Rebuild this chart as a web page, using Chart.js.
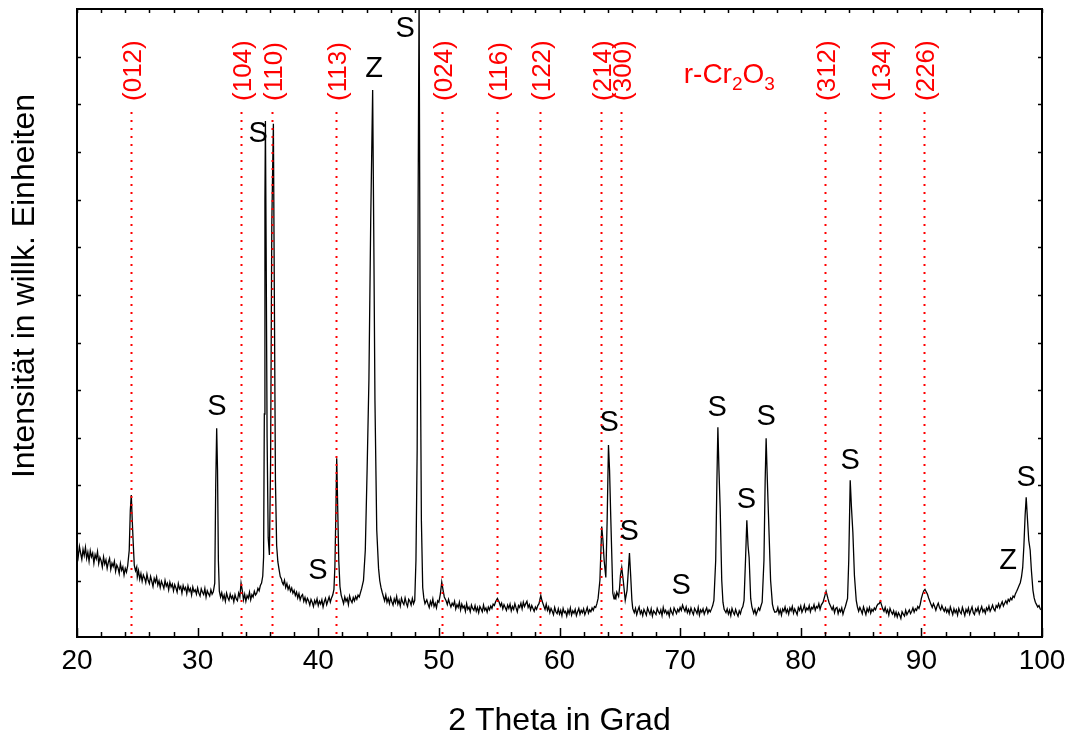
<!DOCTYPE html>
<html lang="de">
<head>
<meta charset="utf-8">
<title>r-Cr2O3 Diffraktogramm</title>
<script src="https://cdn.jsdelivr.net/npm/chart.js@4.4.1/dist/chart.umd.min.js"></script>
<style>
  html, body { margin: 0; padding: 0; background: #fff; }
  #wrap { width: 1069px; height: 737px; position: relative; }
</style>
</head>
<body>
<div id="wrap"><canvas id="xrd"></canvas></div>
<script>
// measured scan, 2 theta in degrees
const twoTheta = [
  20.0, 20.1, 20.2, 20.3, 20.4, 20.5, 20.6, 20.7, 20.8, 20.9,
  21.0, 21.1, 21.2, 21.3, 21.4, 21.5, 21.6, 21.7, 21.8, 21.9,
  22.0, 22.1, 22.2, 22.3, 22.4, 22.5, 22.6, 22.7, 22.8, 22.9,
  23.0, 23.1, 23.2, 23.3, 23.4, 23.5, 23.6, 23.7, 23.8, 23.9,
  24.0, 24.1, 24.2, 24.33, 24.42, 24.5, 24.58, 24.65, 24.75, 24.85, 24.95,
  25.0, 25.1, 25.2, 25.3, 25.4, 25.5, 25.6, 25.7, 25.8, 25.9,
  26.0, 26.1, 26.2, 26.3, 26.4, 26.5, 26.6, 26.7, 26.8, 26.9,
  27.0, 27.1, 27.2, 27.3, 27.4, 27.5, 27.6, 27.7, 27.8, 27.9,
  28.0, 28.1, 28.2, 28.3, 28.4, 28.5, 28.6, 28.7, 28.8, 28.9,
  29.0, 29.1, 29.2, 29.3, 29.4, 29.5, 29.6, 29.7, 29.8, 29.9,
  30.0, 30.1, 30.2, 30.3, 30.4, 30.5, 30.6, 30.7, 30.8, 30.9,
  31.0, 31.1, 31.2, 31.3, 31.42, 31.5, 31.58, 31.65, 31.72, 31.8, 31.9,
  32.0, 32.1, 32.2, 32.3, 32.4, 32.5, 32.6, 32.7, 32.8, 32.9,
  33.0, 33.1, 33.2, 33.3, 33.4, 33.5, 33.6, 33.7, 33.8, 33.9,
  34.0, 34.1, 34.2, 34.3, 34.4, 34.5, 34.6, 34.7, 34.8, 34.9,
  35.0, 35.1, 35.2, 35.3, 35.4, 35.47, 35.53, 35.58, 35.62, 35.68,
  35.76, 35.85, 35.95, 36.05, 36.15, 36.28, 36.36, 36.45, 36.55, 36.65,
  36.75, 36.85, 36.95,
  37.0, 37.1, 37.2, 37.3, 37.4, 37.5, 37.6, 37.7, 37.8, 37.9,
  38.0, 38.1, 38.2, 38.3, 38.4, 38.5, 38.6, 38.7, 38.8, 38.9,
  39.0, 39.1, 39.2, 39.3, 39.4, 39.5, 39.6, 39.7, 39.8, 39.9,
  40.0, 40.1, 40.2, 40.3, 40.4, 40.5, 40.6, 40.7, 40.8, 40.9,
  41.0, 41.1, 41.2, 41.3, 41.38, 41.45, 41.53, 41.6, 41.7, 41.8, 41.9,
  42.0, 42.1, 42.2, 42.3, 42.4, 42.5, 42.6, 42.7, 42.8, 42.9,
  43.0, 43.1, 43.2, 43.3, 43.4, 43.5, 43.6, 43.75, 43.9,
  44.05, 44.2, 44.35, 44.51, 44.6, 44.7, 44.85, 45.0, 45.1, 45.2, 45.3,
  45.4, 45.5, 45.6, 45.7, 45.8, 45.9,
  46.0, 46.1, 46.2, 46.3, 46.4, 46.5, 46.6, 46.7, 46.8, 46.9,
  47.0, 47.1, 47.2, 47.3, 47.4, 47.5, 47.6, 47.7, 47.8, 47.9,
  48.0, 48.1, 48.2, 48.28, 48.36, 48.44, 48.55, 48.66, 48.75, 48.85,
  49.0, 49.1, 49.2, 49.3, 49.4, 49.5, 49.6, 49.7, 49.8, 49.9,
  50.0, 50.12, 50.24, 50.35, 50.45,
  50.6, 50.7, 50.8, 50.9,
  51.0, 51.1, 51.2, 51.3, 51.4, 51.5, 51.6, 51.7, 51.8, 51.9,
  52.0, 52.1, 52.2, 52.3, 52.4, 52.5, 52.6, 52.7, 52.8, 52.9,
  53.0, 53.1, 53.2, 53.3, 53.4, 53.5, 53.6, 53.7, 53.8, 53.9,
  54.0, 54.1, 54.2, 54.3, 54.4, 54.5, 54.6, 54.7, 54.85,
  55.0, 55.1, 55.2, 55.3, 55.4, 55.5, 55.6, 55.7, 55.8, 55.9,
  56.0, 56.1, 56.2, 56.3, 56.4, 56.5, 56.6, 56.7, 56.8, 56.9,
  57.0, 57.1, 57.2, 57.3, 57.4, 57.5, 57.6, 57.7, 57.8, 57.9,
  58.0, 58.1, 58.2, 58.3, 58.45, 58.55, 58.7, 58.8, 58.9,
  59.0, 59.1, 59.2, 59.3, 59.4, 59.5, 59.6, 59.7, 59.8, 59.9,
  60.0, 60.1, 60.2, 60.3, 60.4, 60.5, 60.6, 60.7, 60.8, 60.9,
  61.0, 61.1, 61.2, 61.3, 61.4, 61.5, 61.6, 61.7, 61.8, 61.9,
  62.0, 62.1, 62.2, 62.3, 62.4, 62.5, 62.6, 62.7, 62.8, 62.9,
  63.0, 63.1, 63.2, 63.35, 63.5, 63.6, 63.7, 63.84, 63.95, 64.06,
  64.15, 64.25, 64.42, 64.52, 64.6, 64.68, 64.75, 64.83, 64.9, 64.98,
  65.05, 65.16, 65.3, 65.45, 65.6, 65.8, 65.9, 66.0, 66.07,
  66.2, 66.3, 66.4, 66.5, 66.6, 66.7, 66.8, 66.9,
  67.0, 67.1, 67.2, 67.3, 67.4, 67.5, 67.6, 67.7, 67.8, 67.9,
  68.0, 68.1, 68.2, 68.3, 68.4, 68.5, 68.6, 68.7, 68.8, 68.9,
  69.0, 69.1, 69.2, 69.3, 69.4, 69.5, 69.6, 69.7, 69.8, 69.9,
  70.0, 70.1, 70.2, 70.3, 70.4, 70.5, 70.6, 70.7, 70.8, 70.9,
  71.0, 71.1, 71.2, 71.3, 71.4, 71.5, 71.6, 71.7, 71.8, 71.9,
  72.0, 72.1, 72.2, 72.3, 72.4, 72.5, 72.6, 72.7,
  72.8, 72.95, 73.05, 73.13, 73.22, 73.32, 73.45, 73.55, 73.65,
  73.8, 73.9,
  74.0, 74.1, 74.2, 74.3, 74.4, 74.5, 74.6, 74.7, 74.8, 74.9,
  75.0, 75.1, 75.2, 75.3, 75.42, 75.53, 75.63, 75.72, 75.85, 75.95,
  76.1, 76.2, 76.3, 76.4, 76.5, 76.6, 76.7,
  76.8, 76.95, 77.05, 77.13, 77.23, 77.33, 77.5, 77.65, 77.75, 77.85,
  78.0, 78.1, 78.2, 78.3, 78.4, 78.5, 78.6, 78.7, 78.8, 78.9,
  79.0, 79.1, 79.2, 79.3, 79.4, 79.5, 79.6, 79.7, 79.8, 79.9,
  80.0, 80.1, 80.2, 80.3, 80.4, 80.5, 80.6, 80.7, 80.8, 80.9,
  81.0, 81.1, 81.2, 81.3, 81.4, 81.5, 81.6, 81.7,
  81.85, 82.0, 82.1, 82.25, 82.35, 82.45,
  82.6, 82.7, 82.8, 82.9,
  83.0, 83.1, 83.2, 83.3, 83.4, 83.5, 83.6, 83.7,
  83.88, 83.98, 84.1, 84.2, 84.32, 84.45, 84.6, 84.7,
  84.8, 84.9,
  85.0, 85.1, 85.2, 85.3, 85.4, 85.5, 85.6, 85.7, 85.8, 85.9,
  86.0, 86.1, 86.2, 86.3, 86.4, 86.5, 86.6, 86.7, 86.8, 86.9,
  87.0, 87.1, 87.2, 87.3, 87.4, 87.5, 87.6, 87.7, 87.8, 87.9,
  88.0, 88.1, 88.2, 88.3, 88.4, 88.5, 88.6, 88.7, 88.8, 88.9,
  89.0, 89.1, 89.2, 89.3, 89.4, 89.5, 89.6, 89.7, 89.8, 89.9,
  90.0, 90.1, 90.2, 90.3, 90.4, 90.5, 90.6, 90.7, 90.8, 90.9,
  91.0, 91.1, 91.2, 91.3, 91.4, 91.5, 91.6, 91.7, 91.8, 91.9,
  92.0, 92.1, 92.2, 92.3, 92.4, 92.5, 92.6, 92.7, 92.8, 92.9,
  93.0, 93.1, 93.2, 93.3, 93.4, 93.5, 93.6, 93.7, 93.8, 93.9,
  94.0, 94.1, 94.2, 94.3, 94.4, 94.5, 94.6, 94.7, 94.8, 94.9,
  95.0, 95.1, 95.2, 95.3, 95.4, 95.5, 95.6, 95.7, 95.8, 95.9,
  96.0, 96.1, 96.2, 96.3, 96.4, 96.5, 96.6, 96.7, 96.8, 96.9,
  97.0, 97.1, 97.2, 97.3, 97.4, 97.5, 97.6, 97.7, 97.8, 97.9,
  98.0, 98.1, 98.2, 98.3, 98.4, 98.5, 98.6, 98.69, 98.8, 98.9,
  99.02, 99.12, 99.25, 99.35, 99.45,
  99.55, 99.65, 99.75, 99.85, 100.0,
];

// intensity, arbitrary units
const intensity = [
  168, 150, 172, 158, 145, 166, 153, 170, 147, 160,
  141, 163, 150, 158, 137, 155, 146, 161, 136, 149,
  142, 129, 150, 135, 144, 126, 139, 147, 124, 137,
  130, 141, 120, 133, 127, 115, 136, 122, 129, 112,
  126, 118, 131, 164, 248, 280, 227, 185, 132, 121, 129,
  108, 121, 103, 115, 99, 112, 106, 96, 114, 101,
  94, 109, 99, 88, 105, 97, 108, 91, 100, 86,
  99, 92, 84, 101, 89, 95, 81, 97, 87, 93,
  79, 92, 85, 76, 94, 83, 88, 74, 90, 81,
  86, 73, 89, 78, 84, 70, 87, 77, 81, 72,
  85, 74, 68, 83, 76, 71, 84, 66, 79, 73,
  68, 81, 72, 77, 95, 300, 420, 332, 143, 78, 66,
  75, 61, 70, 57, 74, 65, 59, 72, 63, 68,
  56, 71, 62, 58, 74, 66, 95, 80, 60, 72,
  57, 69, 63, 76, 60, 71, 66, 78, 70, 74,
  84, 79, 90, 95, 110, 150, 450, 900, 1065, 800,
  400, 190, 154, 350, 850, 1059, 700, 311, 174, 140,
  124, 109, 104,
  98, 92, 101, 86, 94, 82, 89, 78, 85, 74,
  80, 69, 76, 64, 73, 60, 68, 71, 57, 65,
  54, 63, 58, 49, 61, 55, 46, 59, 52, 62,
  48, 57, 51, 60, 45, 56, 63, 50, 58, 66,
  55, 64, 70, 82, 130, 227, 357, 269, 143, 88, 70,
  61, 52, 66, 57, 63, 50, 68, 59, 54, 65,
  58, 67, 61, 70, 66, 75, 84, 101, 164,
  332, 521, 857, 1130, 836, 479, 206, 126, 100, 86, 76,
  67, 58, 70, 55, 63, 52,
  65, 56, 49, 62, 54, 67, 51, 59, 47, 63,
  55, 50, 64, 53, 46, 61, 57, 49, 63, 52,
  59, 143, 374, 899, 1330, 689, 227, 86, 64, 52,
  60, 51, 44, 57, 49, 62, 46, 53, 43, 58,
  55, 72, 97, 80, 66,
  58, 50, 61, 52,
  45, 53, 48, 57, 41, 50, 44, 55, 39, 51,
  43, 47, 36, 52, 40, 45, 35, 49, 42, 38,
  48, 36, 44, 33, 46, 41, 35, 49, 38, 43,
  34, 45, 39, 47, 42, 51, 48, 56, 63,
  55, 47, 53, 41, 50, 44, 38, 49, 42, 51,
  37, 46, 40, 52, 43, 35, 48, 44, 53, 41,
  55, 46, 52, 57, 44, 50, 39, 48, 42, 36,
  45, 40, 48, 52, 69, 58, 47, 40, 51,
  38, 45, 33, 42, 36, 29, 44, 35, 31, 41,
  30, 38, 27, 42, 33, 36, 26, 39, 31, 43,
  28, 37, 32, 40, 27, 35, 42, 30, 38, 33,
  41, 29, 36, 44, 32, 39, 35, 43, 38, 46,
  44, 52, 63, 101, 214, 185, 143, 107, 227, 385,
  332, 233, 74, 62, 70, 64, 76, 71, 67, 85,
  111, 128, 97, 59, 80, 158, 111, 60, 42,
  33, 42, 29, 38, 45, 31, 37, 27,
  40, 34, 28, 43, 36, 30, 41, 26, 37, 33,
  29, 42, 35, 31, 39, 27, 44, 33, 38, 30,
  36, 26, 41, 34, 29, 43, 37, 31, 40, 35,
  44, 38, 49, 42, 36, 45, 33, 40, 31, 43,
  35, 29, 42, 37, 31, 44, 28, 39, 34, 41,
  30, 37, 43, 32, 39, 35, 41, 48,
  59, 143, 311, 422, 332, 252, 101, 55, 40,
  33, 41,
  30, 38, 27, 42, 34, 29, 40, 32, 26, 37,
  31, 41, 46, 59, 143, 227, 174, 149, 63, 45,
  32, 40, 29, 36, 43, 38, 47,
  55, 143, 311, 399, 311, 233, 101, 51, 40, 34,
  35, 44, 31, 39, 28, 41, 36, 45, 33, 40,
  30, 43, 37, 46, 32, 41, 35, 29, 44, 38,
  47, 34, 40, 49, 36, 43, 39, 48, 35, 44,
  41, 50, 38, 46, 43, 52, 40, 49,
  55, 69, 78, 63, 54, 48,
  39, 46, 33, 42,
  44, 31, 40, 35, 43, 30, 39, 46,
  63, 143, 311, 256, 202, 111, 59, 45,
  36, 44,
  38, 31, 45, 37, 29, 42, 35, 44, 32, 40,
  36, 43, 39, 47, 51, 52, 57, 49, 41, 36,
  44, 33, 39, 28, 42, 35, 30, 37, 26, 34,
  24, 33, 28, 21, 35, 30, 26, 38, 29, 34,
  39, 31, 36, 43, 34, 41, 38, 46, 42, 50,
  63, 72, 79, 82, 77, 72, 64, 57, 50, 44,
  52, 46, 38, 47, 53, 44, 39, 48, 41, 36,
  43, 34, 40, 31, 45, 37, 29, 41, 33, 39,
  28, 42, 35, 31, 44, 36, 27, 40, 34, 43,
  30, 38, 45, 33, 29, 41, 36, 44, 31, 39,
  46, 35, 40, 32, 43, 38, 47, 36, 42, 49,
  41, 37, 48, 44, 52, 43, 50, 56, 47, 53,
  58, 52, 61, 57, 64, 60, 68, 65, 73, 78,
  84, 90, 96, 108, 128, 174, 237, 275, 227, 185,
  164, 122, 80, 64, 55,
  50, 45, 48, 41, 38,
];

// r-Cr2O3 reference reflections
const hklLabels = ['(012)', '(104)', '(110)', '(113)', '(024)', '(116)',
  '(122)', '(214)', '(300)', '(312)', '(134)', '(226)'];
const hklTheta = [24.45, 33.57, 36.19, 41.48, 50.24, 54.80,
  58.39, 63.42, 65.08, 82.02, 86.53, 90.18];

// phase marks (S, Z) placed in data coordinates
const markText = ['S', 'S', 'S', 'Z', 'S', 'S', 'S', 'S', 'S', 'S', 'S', 'S', 'Z', 'S'];
const markTheta = [31.61, 35.01, 39.98, 44.63, 47.20, 64.11, 65.77,
  70.08, 73.08, 75.49, 77.13, 84.10, 97.20, 98.69];
const markIntensity = [464, 1038, 120, 1174, 1258, 431, 202,
  90, 462, 269, 443, 351, 141, 315];

const xTickLabels = ['20', '30', '40', '50', '60', '70', '80', '90', '100'];

const FONT = "'Liberation Sans', Arial, Helvetica, sans-serif";
const RED = '#ff0000';
const HKL_LINE_TOP = 1084;
const HKL_TEXT_BASE = 1107;
const PHASE_AT = { x: 70.3, y: 1145 };

Chart.defaults.font.family = FONT;
Chart.defaults.color = '#000';

const decorations = {
  id: 'decorations',
  afterDatasetsDraw(chart) {
    const { ctx, chartArea: a, scales: { x, y } } = chart;
    ctx.save();

    // dotted reference lines
    ctx.strokeStyle = RED;
    ctx.lineWidth = 2;
    ctx.setLineDash([2, 6]);
    hklTheta.forEach((t) => {
      const px = Math.round(x.getPixelForValue(t)) + 0.5;
      ctx.beginPath();
      ctx.moveTo(px, y.getPixelForValue(HKL_LINE_TOP));
      ctx.lineTo(px, a.bottom);
      ctx.stroke();
    });
    ctx.setLineDash([]);

    // hkl labels, rotated
    ctx.fillStyle = RED;
    ctx.font = '26px ' + FONT;
    ctx.textAlign = 'left';
    ctx.textBaseline = 'middle';
    hklTheta.forEach((t, i) => {
      ctx.save();
      ctx.translate(x.getPixelForValue(t) + 3, y.getPixelForValue(HKL_TEXT_BASE));
      ctx.rotate(-Math.PI / 2);
      ctx.fillText(hklLabels[i], 0, 0);
      ctx.restore();
    });

    // phase name with subscripts
    let px = x.getPixelForValue(PHASE_AT.x);
    const base = y.getPixelForValue(PHASE_AT.y);
    ctx.textBaseline = 'alphabetic';
    const parts = [['r-Cr', 28, 0], ['2', 19, 7], ['O', 28, 0], ['3', 19, 7]];
    parts.forEach(([txt, size, shift]) => {
      ctx.font = size + 'px ' + FONT;
      ctx.fillText(txt, px, base + shift);
      px += ctx.measureText(txt).width;
    });

    // S / Z marks
    ctx.fillStyle = '#000';
    ctx.font = '29px ' + FONT;
    ctx.textAlign = 'center';
    ctx.textBaseline = 'middle';
    markText.forEach((m, i) => {
      ctx.fillText(m, x.getPixelForValue(markTheta[i]), y.getPixelForValue(markIntensity[i]));
    });

    // frame and inward ticks
    ctx.strokeStyle = '#000';
    ctx.lineWidth = 1.5;
    ctx.beginPath();
    for (let v = 20; v <= 100; v += 2) {
      const tx = Math.round(x.getPixelForValue(v)) + 0.5;
      const len = v % 10 === 0 ? 9 : 5;
      ctx.moveTo(tx, a.bottom);
      ctx.lineTo(tx, a.bottom - len);
      ctx.moveTo(tx, a.top);
      ctx.lineTo(tx, a.top + 4);
    }
    y.ticks.forEach((t) => {
      if (t.value < 0 || t.value >= y.max) return;
      const ty = Math.round(y.getPixelForValue(t.value)) + 0.5;
      ctx.moveTo(a.left, ty);
      ctx.lineTo(a.left + 4, ty);
      ctx.moveTo(a.right, ty);
      ctx.lineTo(a.right - 4, ty);
    });
    ctx.stroke();
    ctx.lineWidth = 2;
    ctx.strokeRect(a.left, a.top, a.right - a.left, a.bottom - a.top);

    // y axis title
    ctx.font = '32px ' + FONT;
    ctx.textAlign = 'center';
    ctx.textBaseline = 'middle';
    ctx.translate(25, 286);
    ctx.rotate(-Math.PI / 2);
    ctx.fillText('Intensität in willk. Einheiten', 0, 0);

    ctx.restore();
  },
};

new Chart(document.getElementById('xrd'), {
  type: 'line',
  data: {
    datasets: [{
      data: twoTheta.map((t, i) => ({ x: t, y: intensity[i] })),
      borderColor: '#000',
      borderWidth: 1.3,
      pointRadius: 0,
      tension: 0,
      fill: false,
    }],
  },
  options: {
    responsive: true,
    maintainAspectRatio: false,
    animation: false,
    events: [],
    layout: { padding: { top: 9, right: 27, bottom: 0, left: 0 } },
    plugins: { legend: { display: false }, tooltip: { enabled: false } },
    scales: {
      x: {
        type: 'linear',
        min: 20,
        max: 100,
        grid: { display: false, drawTicks: false },
        border: { display: false },
        ticks: {
          stepSize: 10,
          autoSkip: false,
          maxRotation: 0,
          padding: 7,
          color: '#000',
          font: { size: 28 },
          callback: (v) => xTickLabels[(v - 20) / 10],
        },
        title: {
          display: true,
          text: '2 Theta in Grad',
          color: '#000',
          font: { size: 32, lineHeight: 1 },
          padding: { top: 0, bottom: 0 },
        },
        afterFit: (s) => {
          s.height = 100;
          s.paddingLeft = 0;
          s.paddingRight = 0;
        },
      },
      y: {
        min: -18,
        max: 1300,
        grid: { display: false, drawTicks: false },
        border: { display: false },
        ticks: { display: false, stepSize: 100 },
        afterFit: (s) => { s.width = 77; },
      },
    },
  },
  plugins: [decorations],
});
</script>
</body>
</html>
